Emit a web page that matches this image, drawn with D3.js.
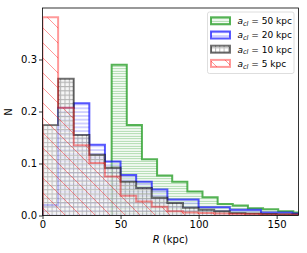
<!DOCTYPE html>
<meta charset="utf-8">
<style>
body { margin: 0; background: #fff; }
text { font-family: "DejaVu Sans", sans-serif; }
</style>
<svg width="307" height="253"></svg>
<script src="https://d3js.org/d3.v7.min.js"></script>
<body>
<script>
// histogram data, N per bin
var labels = ["50", "20", "10", "5"];
var colors = ["#2ca02c", "#0000ff", "#000000", "#ff0000"];
var binStart = [44.3, 0, 0, 0];
var binWidth = [9.7, 10, 10, 10];
var nGreen = [0.29, 0.174, 0.108, 0.077, 0.065, 0.046, 0.035, 0.022, 0.019, 0.014, 0.012, 0.008, 0.006];
var nBlue = [0.02, 0.207, 0.216, 0.136, 0.104, 0.078, 0.065, 0.05, 0.031, 0.031, 0.016, 0.016, 0.011, 0.011, 0.006, 0.006, 0.004];
var nGrey = [0.174, 0.263, 0.155, 0.117, 0.092, 0.065, 0.053, 0.034, 0.024, 0.015, 0.011, 0.008, 0.005, 0.004, 0.003, 0.002, 0.002];
var nRed = [0.381, 0.207, 0.135, 0.101, 0.075, 0.038, 0.027, 0.017, 0.008, 0.006, 0.005, 0.004, 0.003, 0.003, 0.002, 0.002, 0.002];
var xTicks = [0, 50, 100, 150];
var yTicks = [0, 0.1, 0.2, 0.3];

var series = [nGreen, nBlue, nGrey, nRed];

var svg = d3.select("svg");

var x = d3.scaleLinear().domain([0, 164]).range([42.5, 298.5]);
var y = d3.scaleLinear().domain([0, 0.399]).range([215.5, 8]);

var defs = svg.append("defs");
defs.append("clipPath").attr("id", "clip")
  .append("rect").attr("x", 42.5).attr("y", 8).attr("width", 256).attr("height", 207.5);

// hatch patterns
function pattern(id, w, h, d, color, op, sw) {
  var p = defs.append("pattern").attr("id", id)
    .attr("patternUnits", "userSpaceOnUse")
    .attr("width", w).attr("height", h);
  p.append("path").attr("d", d)
    .attr("stroke", color).attr("stroke-opacity", op)
    .attr("stroke-width", sw).attr("fill", "none");
}
pattern("h0", 5, 2.5, "M0,1.25H5", colors[0], 0.45, 1);
pattern("h1", 5, 3.8, "M0,1.9H5", colors[1], 0.35, 1);
pattern("h2", 4.3, 4.3, "M0,0.5H4.3M0.5,0V4.3", colors[2], 0.28, 1);
pattern("h3", 15, 15, "M-1,-1L16,16M-1,14L1,16M14,-1L16,1", colors[3], 0.4, 1);

var strokeOp = [0.8, 0.65, 0.55, 0.4];
var faceCol = ["#ffffff", "#ffffff", "#f0f0f0", "#ffffff"];
var faceOp = [0.3, 0.3, 0.6, 0.15];

function stepPath(vals, s, w) {
  var p = d3.path();
  p.moveTo(x(s), y(0));
  vals.forEach(function(v, i) {
    p.lineTo(x(s + i * w), y(v));
    p.lineTo(x(s + (i + 1) * w), y(v));
  });
  p.lineTo(x(s + vals.length * w), y(0));
  return p.toString();
}

var plot = svg.append("g").attr("clip-path", "url(#clip)");

series.forEach(function(vals, k) {
  var d = stepPath(vals, binStart[k], binWidth[k]);
  plot.append("path").attr("d", d + "Z")
    .attr("fill", faceCol[k]).attr("fill-opacity", faceOp[k]);
  plot.append("path").attr("d", d + "Z")
    .attr("fill", "url(#h" + k + ")").attr("stroke", "none");
  plot.append("path").attr("d", d)
    .attr("fill", "none")
    .attr("stroke", colors[k]).attr("stroke-opacity", strokeOp[k])
    .attr("stroke-width", 2);
});

// frame
svg.append("rect").attr("x", 42.5).attr("y", 8).attr("width", 256).attr("height", 207.5)
  .attr("fill", "none").attr("stroke", "#000").attr("stroke-width", 0.8);

var xAxis = d3.axisBottom(x).tickValues(xTicks).tickSize(3.5).tickPadding(2)
  .tickFormat(d3.format("d"));
var yAxis = d3.axisLeft(y).tickValues(yTicks).tickSize(3.5).tickPadding(2)
  .tickFormat(d3.format(".1f"));

var gx = svg.append("g").attr("transform", "translate(0,215.5)").call(xAxis);
var gy = svg.append("g").attr("transform", "translate(42.5,0)").call(yAxis);
[gx, gy].forEach(function(g) {
  g.select(".domain").remove();
  g.selectAll("text").attr("font-size", 10).attr("fill", "#000")
    .style("font-family", "DejaVu Sans");
  g.selectAll("line").attr("stroke", "#000").attr("stroke-width", 0.8);
});

svg.append("text").attr("x", 170.5).attr("y", 243).attr("text-anchor", "middle")
  .attr("font-size", 10)
  .call(function(t) {
    t.append("tspan").attr("font-style", "italic").text("R");
    t.append("tspan").text(" (kpc)");
  });

svg.append("text").attr("transform", "translate(12,112) rotate(-90)")
  .attr("text-anchor", "middle").attr("font-size", 10).text("N");

// legend
var leg = svg.append("g");
leg.append("rect").attr("x", 207.5).attr("y", 12).attr("width", 86.5).attr("height", 61.5)
  .attr("rx", 2).attr("fill", "#fff").attr("fill-opacity", 0.8)
  .attr("stroke", "#d6d6d6").attr("stroke-width", 0.8);

labels.forEach(function(lab, k) {
  var cy = 20.8 + k * 14.2;
  leg.append("rect").attr("x", 211).attr("y", cy - 3.5).attr("width", 19).attr("height", 7)
    .attr("fill", "url(#h" + k + ")")
    .attr("stroke", colors[k]).attr("stroke-opacity", strokeOp[k]).attr("stroke-width", 2);
  var t = leg.append("text").attr("x", 237.5).attr("y", cy + 3.3).attr("font-size", 9);
  t.append("tspan").attr("font-style", "italic").text("a");
  t.append("tspan").attr("font-style", "italic").attr("font-size", 6.5).attr("dy", 1.8).text("cl");
  t.append("tspan").attr("dy", -1.8).text(" = " + lab + " kpc");
});
</script>
</body>
